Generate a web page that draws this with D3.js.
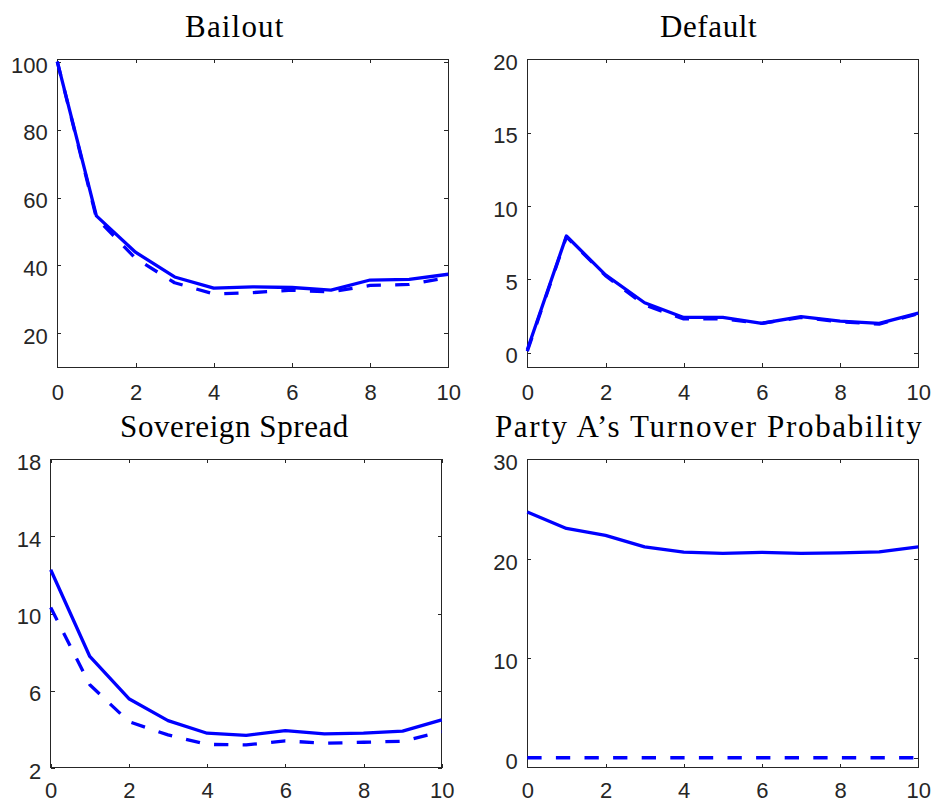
<!DOCTYPE html>
<html>
<head>
<meta charset="utf-8">
<script src="https://cdn.jsdelivr.net/npm/d3@7"></script>
<style>
  html, body { margin: 0; padding: 0; background: #ffffff; }
  svg { display: block; }
</style>
</head>
<body>
<script>
// Horizon (periods after the shock)
const periods = [0, 1, 2, 3, 4, 5, 6, 7, 8, 9, 10];

// Bailout
const bailoutSolid  = [100, 54.6, 43.9, 36.6, 33.3, 33.7, 33.5, 32.7, 35.7, 35.9, 37.4];
const bailoutDashed = [100, 54.0, 42.1, 34.9, 31.6, 32.0, 32.7, 32.2, 34.1, 34.4, 36.5];

// Default
const defaultSolid  = [0.2, 7.95, 5.3, 3.4, 2.4, 2.4, 2.0, 2.45, 2.15, 2.0, 2.7];
const defaultDashed = [0.1, 7.9, 5.25, 3.25, 2.3, 2.3, 2.0, 2.4, 2.1, 1.95, 2.65];

// Sovereign spread
const spreadSolid  = [12.27, 7.77, 5.58, 4.44, 3.79, 3.68, 3.92, 3.75, 3.79, 3.90, 4.48];
const spreadDashed = [10.31, 6.30, 4.39, 3.70, 3.21, 3.18, 3.39, 3.27, 3.32, 3.37, 3.87];

// Party A's turnover probability
const turnoverSolid  = [24.7, 23.05, 22.35, 21.2, 20.67, 20.54, 20.64, 20.54, 20.6, 20.7, 21.2];
const turnoverDashed = [0, 0, 0, 0, 0, 0, 0, 0, 0, 0, 0];

// Axis settings
const xTicks = [0, 2, 4, 6, 8, 10];
const bailoutTicks  = [20, 40, 60, 80, 100];
const defaultTicks  = [0, 5, 10, 15, 20];
const spreadTicks   = [2, 6, 10, 14, 18];
const turnoverTicks = [0, 10, 20, 30];

const titles = ["Bailout", "Default", "Sovereign Spread", "Party A\u2019s Turnover Probability"];

// Panel layout (pixel boxes, label padding and title placement)
const layout = [
  { left: 57.3,  right: 448.3, top: 59.3,  bottom: 367.3, xPad: 17,   titleX: 234.2, titleW: 98.3 },
  { left: 527.3, right: 918.3, top: 59.3,  bottom: 367.3, xPad: 17,   titleX: 708.3, titleW: 96.7 },
  { left: 50.7,  right: 441.7, top: 459.3, bottom: 767.7, xPad: 14.5, titleX: 234.2, titleW: 228.3 },
  { left: 527.3, right: 918.3, top: 459.3, bottom: 767.7, xPad: 14.5, titleX: 708.3, titleW: 426.7 }
];

const panels = [
  { title: titles[0], solid: bailoutSolid,  dashed: bailoutDashed,  yDomain: [10, 100.7], yTicks: bailoutTicks },
  { title: titles[1], solid: defaultSolid,  dashed: defaultDashed,  yDomain: [-1, 20],    yTicks: defaultTicks },
  { title: titles[2], solid: spreadSolid,   dashed: spreadDashed,   yDomain: [2, 18],     yTicks: spreadTicks },
  { title: titles[3], solid: turnoverSolid, dashed: turnoverDashed, yDomain: [-1, 30],    yTicks: turnoverTicks }
];

const W = 931, H = 802;
const axisColor = "#262626";
const lineColor = "#0000ff";

const svg = d3.select("body").append("svg")
  .attr("width", W).attr("height", H)
  .attr("viewBox", `0 0 ${W} ${H}`);

svg.append("rect").attr("width", W).attr("height", H).attr("fill", "#ffffff");

panels.forEach((p, i) => {
  const L = layout[i];
  const x = d3.scaleLinear().domain([0, 10]).range([L.left, L.right]);
  const y = d3.scaleLinear().domain(p.yDomain).range([L.bottom, L.top]);

  const g = svg.append("g");

  // plot box
  g.append("rect")
    .attr("x", L.left).attr("y", L.top)
    .attr("width", L.right - L.left).attr("height", L.bottom - L.top)
    .attr("fill", "none").attr("stroke", axisColor).attr("stroke-width", 1)
    .attr("shape-rendering", "crispEdges");

  const styleAxis = sel => {
    sel.select(".domain").remove();
    sel.selectAll(".tick line").attr("stroke", axisColor).attr("stroke-width", 1)
      .attr("shape-rendering", "crispEdges");
    sel.selectAll(".tick text")
      .attr("fill", axisColor)
      .attr("font-family", "'Liberation Sans', Arial, Helvetica, sans-serif")
      .attr("font-size", 22);
  };

  // bottom axis with labels, inward ticks
  g.append("g").attr("transform", `translate(0,${L.bottom})`)
    .call(d3.axisBottom(x).tickValues(xTicks).tickFormat(d3.format("d"))
      .tickSizeInner(-4).tickSizeOuter(0).tickPadding(L.xPad))
    .call(styleAxis);

  // top axis (ticks only)
  g.append("g").attr("transform", `translate(0,${L.top})`)
    .call(d3.axisTop(x).tickValues(xTicks).tickFormat("")
      .tickSizeInner(-4).tickSizeOuter(0))
    .call(styleAxis);

  // left axis with labels
  const left = g.append("g").attr("transform", `translate(${L.left},0)`)
    .call(d3.axisLeft(y).tickValues(p.yTicks).tickFormat(d3.format("d"))
      .tickSizeInner(-4).tickSizeOuter(0).tickPadding(9.5))
    .call(styleAxis);
  left.selectAll(".tick text").attr("dy", "0.47em");

  // right axis (ticks only)
  g.append("g").attr("transform", `translate(${L.right},0)`)
    .call(d3.axisRight(y).tickValues(p.yTicks).tickFormat("")
      .tickSizeInner(-4).tickSizeOuter(0))
    .call(styleAxis);

  const line = d3.line()
    .x((d, j) => x(periods[j]))
    .y(d => y(d));

  g.append("path")
    .datum(p.dashed)
    .attr("d", line)
    .attr("fill", "none")
    .attr("stroke", lineColor)
    .attr("stroke-width", 3.3)
    .attr("stroke-dasharray", "14.3,14.3")
    .attr("stroke-linejoin", "round");

  g.append("path")
    .datum(p.solid)
    .attr("d", line)
    .attr("fill", "none")
    .attr("stroke", lineColor)
    .attr("stroke-width", 3.3)
    .attr("stroke-linejoin", "round");

  // title
  g.append("text")
    .attr("x", L.titleX)
    .attr("y", L.top - 22)
    .attr("text-anchor", "middle")
    .attr("font-family", "'Liberation Serif', 'Times New Roman', serif")
    .attr("font-size", 31)
    .attr("fill", "#000000")
    .attr("textLength", L.titleW)
    .attr("lengthAdjust", "spacing")
    .text(p.title);
});
</script>
</body>
</html>
